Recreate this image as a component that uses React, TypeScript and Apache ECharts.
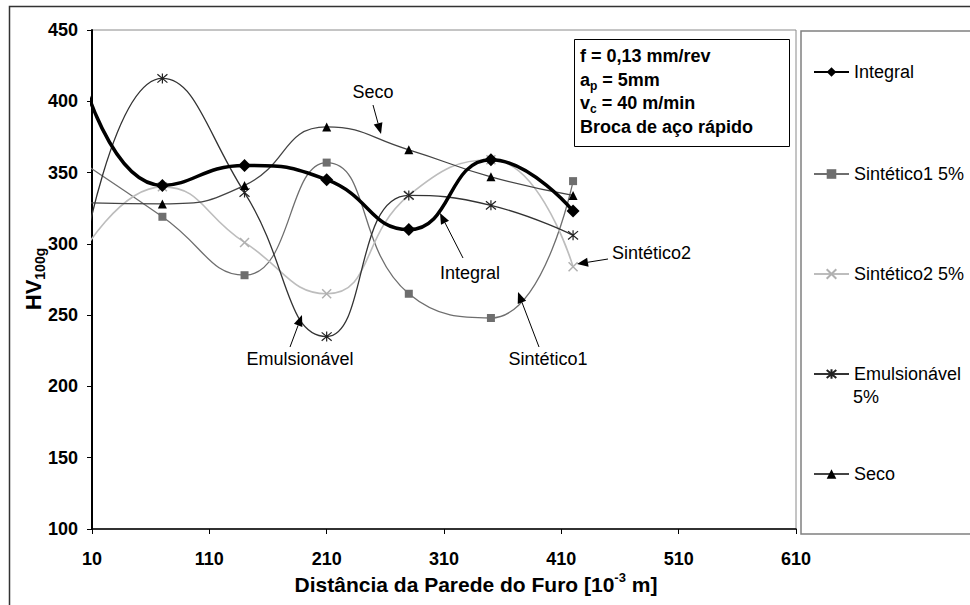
import React, { useEffect, useRef } from 'react';
import * as echarts from 'echarts';

const FONT = '"Liberation Sans", Arial, Helvetica, sans-serif';

// Distance from hole wall [10^-3 m]
const X_VALUES = [0, 70, 140, 210, 280, 350, 420];
// HV100g hardness values
const INTEGRAL = [421, 341, 355, 345, 310, 359, 323];
const SINTETICO1 = [358, 319, 278, 357, 265, 248, 344];
const SINTETICO2 = [291, 340, 301, 265, 334, 359, 284];
const EMULSIONAVEL = [282, 416, 336, 235, 334, 327, 306];
const SECO = [329, 328, 341, 382, 366, 347, 334];

const SERIES_NAMES = ['Integral', 'Sintético1 5%', 'Sintético2 5%', 'Emulsionável 5%', 'Seco'];
const Y_TICKS = { min: 100, max: 450, interval: 50 };
const X_TICKS = { min: 10, max: 610, interval: 100 };

const INFO_LINES = [
  'f = 0,13 mm/rev',
  'a{sub|p} = 5mm',
  'v{sub|c} = 40 m/min',
  'Broca de aço rápido',
];

const LEGEND_CENTERS = [72, 174, 274, 374, 474];

const X_SYMBOL = 'path://M0,0L10,10M10,0L0,10';
const STAR_SYMBOL = 'path://M0,0L10,10M10,0L0,10M5,-1L5,11';

const pts = (vals: number[]) => X_VALUES.map((x, i) => [x, vals[i]]);

function arrow(x1: number, y1: number, x2: number, y2: number) {
  const dx = x2 - x1;
  const dy = y2 - y1;
  const len = Math.sqrt(dx * dx + dy * dy);
  const ux = dx / len;
  const uy = dy / len;
  const hl = 11;
  const hw = 4.5;
  const bx = x2 - ux * hl;
  const by = y2 - uy * hl;
  return [
    {
      type: 'line',
      shape: { x1, y1, x2: bx, y2: by },
      style: { stroke: '#000', lineWidth: 1 },
      z: 10,
    },
    {
      type: 'polygon',
      shape: {
        points: [
          [x2, y2],
          [bx - uy * hw, by + ux * hw],
          [bx + uy * hw, by - ux * hw],
        ],
      },
      style: { fill: '#000' },
      z: 10,
    },
  ];
}

function label(text: string, x: number, y: number, align = 'center') {
  return {
    type: 'text',
    x,
    y,
    z: 10,
    style: {
      text,
      font: `18px ${FONT}`,
      fill: '#000',
      align,
      verticalAlign: 'middle',
    },
  };
}

export default function App() {
  const ref = useRef<HTMLDivElement>(null);

  useEffect(() => {
    if (!ref.current) return;
    const chart = echarts.init(ref.current, null, { renderer: 'svg' });

    const base = {
      type: 'line',
      smooth: 0.5,
      clip: true,
    };

    const series = [
      {
        ...base,
        name: SERIES_NAMES[1],
        data: pts(SINTETICO1),
        symbol: 'rect',
        symbolSize: 8,
        itemStyle: { color: '#6e6e6e' },
        lineStyle: { color: '#6e6e6e', width: 1.3 },
      },
      {
        ...base,
        name: SERIES_NAMES[2],
        data: pts(SINTETICO2),
        symbol: X_SYMBOL,
        symbolSize: 9,
        itemStyle: { color: 'rgba(0,0,0,0)', borderColor: '#b0b0b0', borderWidth: 1.5 },
        lineStyle: { color: '#bdbdbd', width: 1.6 },
      },
      {
        ...base,
        name: SERIES_NAMES[3],
        data: pts(EMULSIONAVEL),
        symbol: STAR_SYMBOL,
        symbolSize: 10,
        itemStyle: { color: 'rgba(0,0,0,0)', borderColor: '#222', borderWidth: 1.2 },
        lineStyle: { color: '#333', width: 1.3 },
      },
      {
        ...base,
        name: SERIES_NAMES[4],
        data: pts(SECO),
        symbol: 'triangle',
        symbolSize: 9,
        itemStyle: { color: '#000' },
        lineStyle: { color: '#444', width: 1.3 },
      },
      {
        ...base,
        name: SERIES_NAMES[0],
        data: pts(INTEGRAL),
        symbol: 'diamond',
        symbolSize: 13,
        itemStyle: { color: '#000' },
        lineStyle: { color: '#000', width: 3.5 },
        z: 3,
      },
    ];

    const legends = SERIES_NAMES.map((n, i) => ({
      data: [n],
      left: 813,
      top: LEGEND_CENTERS[i] - 9,
      padding: 0,
      orient: 'vertical',
      itemWidth: 35,
      itemHeight: 12,
      selectedMode: false,
      formatter: n === 'Emulsionável 5%' ? 'Emulsionável' : '{name}',
      textStyle: { fontSize: 18, fontFamily: FONT, color: '#000' },
    }));

    const infoRich = {
      sub: { fontSize: 12, fontWeight: 'bold', fontFamily: FONT, verticalAlign: 'bottom', lineHeight: 24 },
    };

    const graphic: any[] = [
      // outer frame
      {
        type: 'rect',
        shape: { x: 9.5, y: 6.5, width: 990, height: 640 },
        style: { fill: 'none', stroke: '#333', lineWidth: 1.5 },
        silent: true,
      },
      // legend box
      {
        type: 'rect',
        shape: { x: 801, y: 31, width: 190, height: 503 },
        style: { fill: 'none', stroke: '#808080', lineWidth: 1.5 },
        silent: true,
      },
      // info box
      {
        type: 'rect',
        shape: { x: 574.5, y: 39.5, width: 215, height: 107 },
        style: { fill: '#fff', stroke: '#000', lineWidth: 1 },
        z: 5,
      },
      ...INFO_LINES.map((t, i) => ({
        type: 'text',
        x: 580,
        y: 56 + i * 23.7,
        z: 6,
        style: {
          text: t,
          fontSize: 18,
          fontWeight: 'bold',
          fontFamily: FONT,
          fill: '#000',
          align: 'left',
          verticalAlign: 'middle',
          lineHeight: 24,
          rich: infoRich,
        },
      })),
      // y axis title
      {
        type: 'text',
        x: 33,
        y: 279,
        rotation: Math.PI / 2,
        style: {
          text: '{a|HV}{b|100g}',
          align: 'center',
          verticalAlign: 'middle',
          rich: {
            a: { fontSize: 22, fontWeight: 'bold', fontFamily: FONT, fill: '#000', lineHeight: 27, verticalAlign: 'middle' },
            b: { fontSize: 14, fontWeight: 'bold', fontFamily: FONT, fill: '#000', verticalAlign: 'bottom' },
          },
        },
      },
      // x axis title
      {
        type: 'text',
        x: 476,
        y: 584,
        style: {
          text: '{a|Distância da Parede do Furo [10}{s|-3}{a| m]}',
          align: 'center',
          verticalAlign: 'middle',
          rich: {
            a: { fontSize: 21, fontWeight: 'bold', fontFamily: FONT, fill: '#000', lineHeight: 26, verticalAlign: 'middle' },
            s: { fontSize: 13, fontWeight: 'bold', fontFamily: FONT, fill: '#000', verticalAlign: 'top', lineHeight: 15 },
          },
        },
      },
      // legend second line
      label('5%', 853, 397, 'left'),
      // annotations
      label('Seco', 373, 92),
      ...arrow(373, 105, 381, 134),
      label('Integral', 470, 273),
      ...arrow(463, 258, 440, 213),
      label('Emulsionável', 300, 359),
      ...arrow(290, 347, 302, 315),
      label('Sintético1', 548, 359),
      ...arrow(539, 347, 518, 292),
      label('Sintético2', 612, 253, 'left'),
      ...arrow(608, 259, 577, 264),
    ];

    chart.setOption({
      animation: false,
      backgroundColor: '#fff',
      grid: {
        left: 92,
        top: 30,
        right: 174,
        bottom: 76,
        show: true,
        borderColor: '#8a8a8a',
        borderWidth: 1,
        backgroundColor: 'transparent',
        containLabel: false,
      },
      xAxis: {
        type: 'value',
        min: X_TICKS.min,
        max: X_TICKS.max,
        interval: X_TICKS.interval,
        splitLine: { show: false },
        axisLine: { show: true, onZero: false, lineStyle: { color: '#000', width: 1.5 } },
        axisTick: { show: true, inside: false, length: 5, lineStyle: { color: '#000', width: 1 } },
        axisLabel: {
          margin: 21,
          fontSize: 18,
          fontWeight: 'bold',
          fontFamily: FONT,
          color: '#000',
        },
      },
      yAxis: {
        type: 'value',
        min: Y_TICKS.min,
        max: Y_TICKS.max,
        interval: Y_TICKS.interval,
        splitLine: { show: false },
        axisLine: { show: true, onZero: false, lineStyle: { color: '#000', width: 2 } },
        axisTick: { show: true, inside: false, length: 5, lineStyle: { color: '#000', width: 1 } },
        axisLabel: {
          margin: 14,
          fontSize: 18,
          fontWeight: 'bold',
          fontFamily: FONT,
          color: '#000',
        },
      },
      legend: legends,
      series,
      graphic,
    } as any);

    return () => chart.dispose();
  }, []);

  return (
    <div
      ref={ref}
      style={{ position: 'fixed', left: 0, top: 0, width: 970, height: 605, background: '#fff' }}
    />
  );
}
